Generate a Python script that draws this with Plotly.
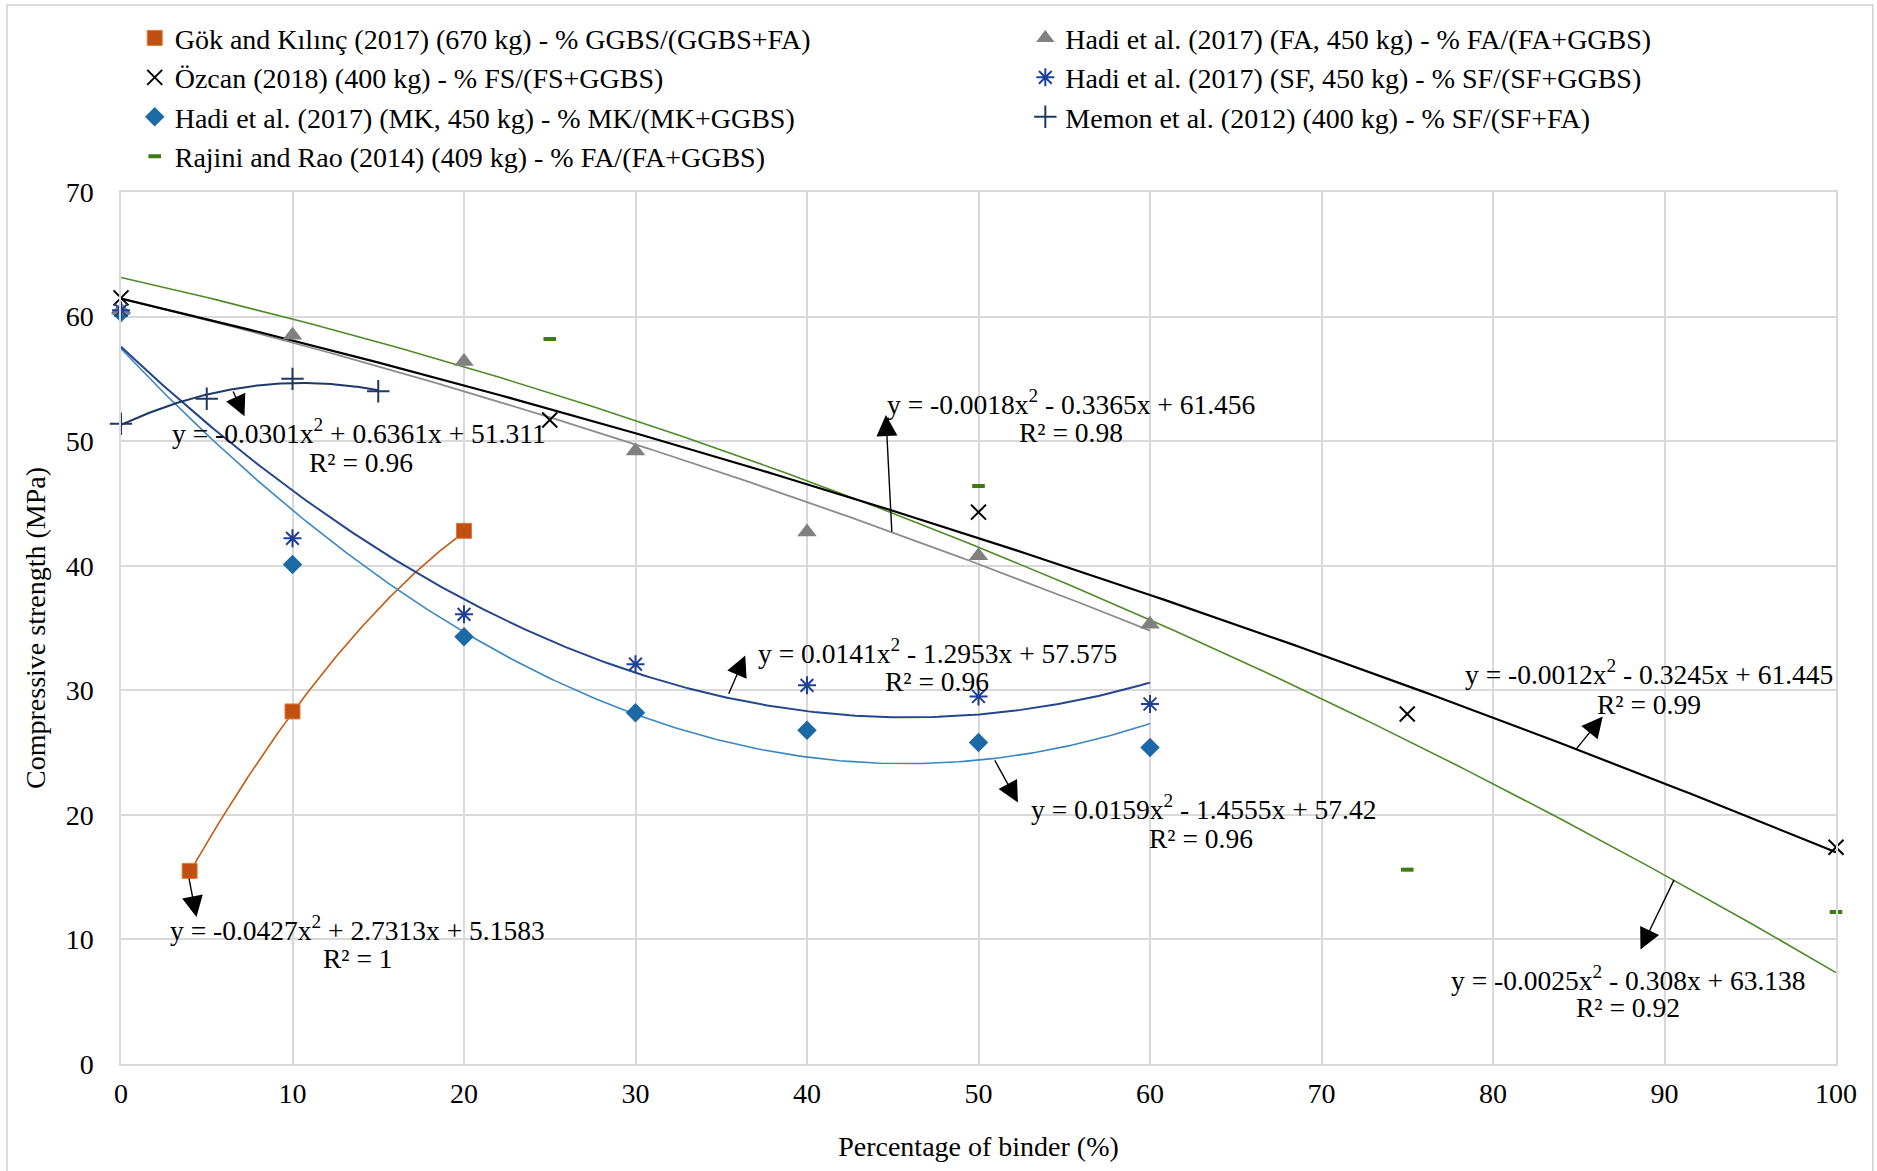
import numpy as np
import plotly.graph_objects as go

# ---------------- data ----------------
gok_x = [4, 10, 20]
gok_y = [15.5, 28.3, 42.8]

ozcan_x = [0, 25, 50, 75, 100]
ozcan_y = [61.5, 51.7, 44.3, 28.1, 17.4]

mk_x = [0, 10, 20, 30, 40, 50, 60]
mk_y = [60.3, 40.1, 34.3, 28.2, 26.8, 25.8, 25.4]

rajini_x = [0, 25, 50, 75, 100]
rajini_y = [60.3, 58.2, 46.4, 15.6, 12.2]

fa_x = [0, 10, 20, 30, 40, 50, 60]
fa_y = [60.5, 58.5, 56.4, 49.2, 42.7, 40.8, 35.3]

sf_x = [0, 10, 20, 30, 40, 50, 60]
sf_y = [60.5, 42.2, 36.1, 32.1, 30.4, 29.5, 28.9]

memon_x = [0, 5, 10, 15]
memon_y = [51.4, 53.4, 55.0, 54.0]

# trendline coefficients as printed on the chart (a x^2 + b x + c)
gok_fit = [-0.0427, 2.7313, 5.1583]
ozcan_fit = [-0.0012, -0.3245, 61.445]
mk_fit = [0.0159, -1.4555, 57.42]
rajini_fit = [-0.0025, -0.308, 63.138]
fa_fit = [-0.0018, -0.3365, 61.456]
sf_fit = [0.0141, -1.2953, 57.575]
memon_fit = [-0.0301, 0.6361, 51.311]

FONT = "Liberation Serif, Times New Roman, serif"

fig = go.Figure()


def trend(xs, coef, color, width):
    xx = np.linspace(min(xs), max(xs), 200)
    yy = np.polyval(coef, xx)
    fig.add_trace(go.Scatter(x=xx, y=yy, mode="lines", showlegend=False,
                             hoverinfo="skip",
                             line=dict(color=color, width=width)))


# trendlines
trend(fa_x, fa_fit, "#8c8c8c", 1.8)
trend(rajini_x, rajini_fit, "#4e8a25", 1.6)
trend(ozcan_x, ozcan_fit, "#000000", 2.2)
trend(gok_x, gok_fit, "#c55a11", 1.6)
trend(mk_x, mk_fit, "#3a86c2", 1.6)
trend(sf_x, sf_fit, "#25458c", 2.0)
trend(memon_x, memon_fit, "#1f3864", 2.0)


def pts(xs, ys, name, marker, legend):
    fig.add_trace(go.Scatter(x=xs, y=ys, mode="markers", name=name,
                             cliponaxis=False, marker=marker, legend=legend))


# data markers: left legend column and right legend column
pts(gok_x, gok_y, "Gök and Kılınç (2017) (670 kg) - % GGBS/(GGBS+FA)",
    dict(symbol="square", size=15, color="#c0500f", line=dict(width=1, color="#e07b3c")),
    "legend")
pts(ozcan_x, ozcan_y, "Özcan (2018) (400 kg) - % FS/(FS+GGBS)",
    dict(symbol="x-thin-open", size=15, color="#000000", line=dict(width=2, color="#000000")),
    "legend")
pts(mk_x, mk_y, "Hadi et al. (2017) (MK, 450 kg) - % MK/(MK+GGBS)",
    dict(symbol="diamond", size=15, color="#1b6aa5"),
    "legend")
pts(rajini_x, rajini_y, "Rajini and Rao (2014) (409 kg) - % FA/(FA+GGBS)",
    dict(symbol="line-ew-open", size=9, color="#3f7a12", line=dict(width=4, color="#3f7a12")),
    "legend")
pts(fa_x, fa_y, "Hadi et al. (2017) (FA, 450 kg) - % FA/(FA+GGBS)",
    dict(symbol="triangle-up", size=17, color="#808080"),
    "legend2")
pts(sf_x, sf_y, "Hadi et al. (2017) (SF, 450 kg) - % SF/(SF+GGBS)",
    dict(symbol="asterisk-open", size=15, color="#1f3f9a", line=dict(width=2, color="#1f3f9a")),
    "legend2")
pts(memon_x, memon_y, "Memon et al. (2012) (400 kg) - % SF/(SF+FA)",
    dict(symbol="cross-thin-open", size=16, color="#1f3864", line=dict(width=2, color="#1f3864")),
    "legend2")

# equation labels
ann_font = dict(family=FONT, size=27.5, color="#000000")
labels = [
    (13.9, 50.8, "y = -0.0301x<sup>2</sup> + 0.6361x + 51.311"),
    (14.0, 48.3, "R² = 0.96"),
    (13.8, 10.9, "y = -0.0427x<sup>2</sup> + 2.7313x + 5.1583"),
    (13.8, 8.5, "R² = 1"),
    (55.4, 53.1, "y = -0.0018x<sup>2</sup> - 0.3365x + 61.456"),
    (55.4, 50.7, "R² = 0.98"),
    (47.6, 33.1, "y = 0.0141x<sup>2</sup> - 1.2953x + 57.575"),
    (47.6, 30.7, "R² = 0.96"),
    (63.1, 20.6, "y = 0.0159x<sup>2</sup> - 1.4555x + 57.42"),
    (63.0, 18.1, "R² = 0.96"),
    (89.1, 31.4, "y = -0.0012x<sup>2</sup> - 0.3245x + 61.445"),
    (89.1, 28.85, "R² = 0.99"),
    (87.9, 6.9, "y = -0.0025x<sup>2</sup> - 0.308x + 63.138"),
    (87.9, 4.5, "R² = 0.92"),
]
for x, y, t in labels:
    fig.add_annotation(x=x, y=y, text=t, showarrow=False, font=ann_font,
                       xanchor="center", yanchor="middle")

# arrows: (head x, head y, tail x, tail y)
arrows = [
    (7.2, 52.0, 6.5, 54.1),
    (4.4, 11.8, 3.95, 15.0),
    (44.6, 52.1, 44.95, 42.6),
    (36.4, 32.8, 35.4, 29.6),
    (52.3, 21.0, 50.9, 24.5),
    (86.4, 27.9, 84.8, 25.2),
    (88.6, 9.2, 90.6, 14.9),
]
for hx, hy, tx, ty in arrows:
    fig.add_annotation(x=hx, y=hy, ax=tx, ay=ty, axref="x", ayref="y",
                       xref="x", yref="y", text="", showarrow=True,
                       arrowhead=2, arrowsize=3, arrowwidth=1.4,
                       arrowcolor="#000000", standoff=0)

# outer chart border
fig.add_shape(type="rect", xref="paper", yref="paper",
              x0=-0.0665, x1=1.0215, y0=-0.13, y1=1.2145,
              line=dict(color="#d0d0d0", width=1.5), fillcolor="rgba(0,0,0,0)",
              layer="below")

legend_font = dict(family=FONT, size=28, color="#000000")
grid = "#d9d9d9"
fig.update_layout(
    width=1877, height=1171,
    margin=dict(l=121, r=41, t=192, b=107),
    paper_bgcolor="white", plot_bgcolor="white",
    font=dict(family=FONT, size=28, color="#000000"),
    showlegend=True,
    legend=dict(orientation="v", x=0.008, y=1.205, xanchor="left", yanchor="top",
                font=legend_font, bgcolor="rgba(0,0,0,0)", tracegroupgap=0),
    legend2=dict(orientation="v", x=0.5273, y=1.205, xanchor="left", yanchor="top",
                 font=legend_font, bgcolor="rgba(0,0,0,0)", tracegroupgap=0),
    xaxis=dict(range=[0, 100], dtick=10, tick0=0, showgrid=True, gridcolor=grid,
               gridwidth=1.5, zeroline=False, showline=True, linecolor=grid,
               linewidth=1.5, mirror=True, ticks="", ticklabelstandoff=4,
               tickfont=dict(family=FONT, size=28),
               title=dict(text="Percentage of binder (%)", standoff=28,
                          font=dict(family=FONT, size=28))),
    yaxis=dict(range=[0, 70], dtick=10, tick0=0, showgrid=True, gridcolor=grid,
               gridwidth=1.5, zeroline=False, showline=True, linecolor=grid,
               linewidth=1.5, mirror=True, ticks="", ticklabelstandoff=20,
               tickfont=dict(family=FONT, size=28),
               title=dict(text="Compressive strength (MPa)", standoff=12,
                          font=dict(family=FONT, size=28))),
)

fig.write_html("out.html")
